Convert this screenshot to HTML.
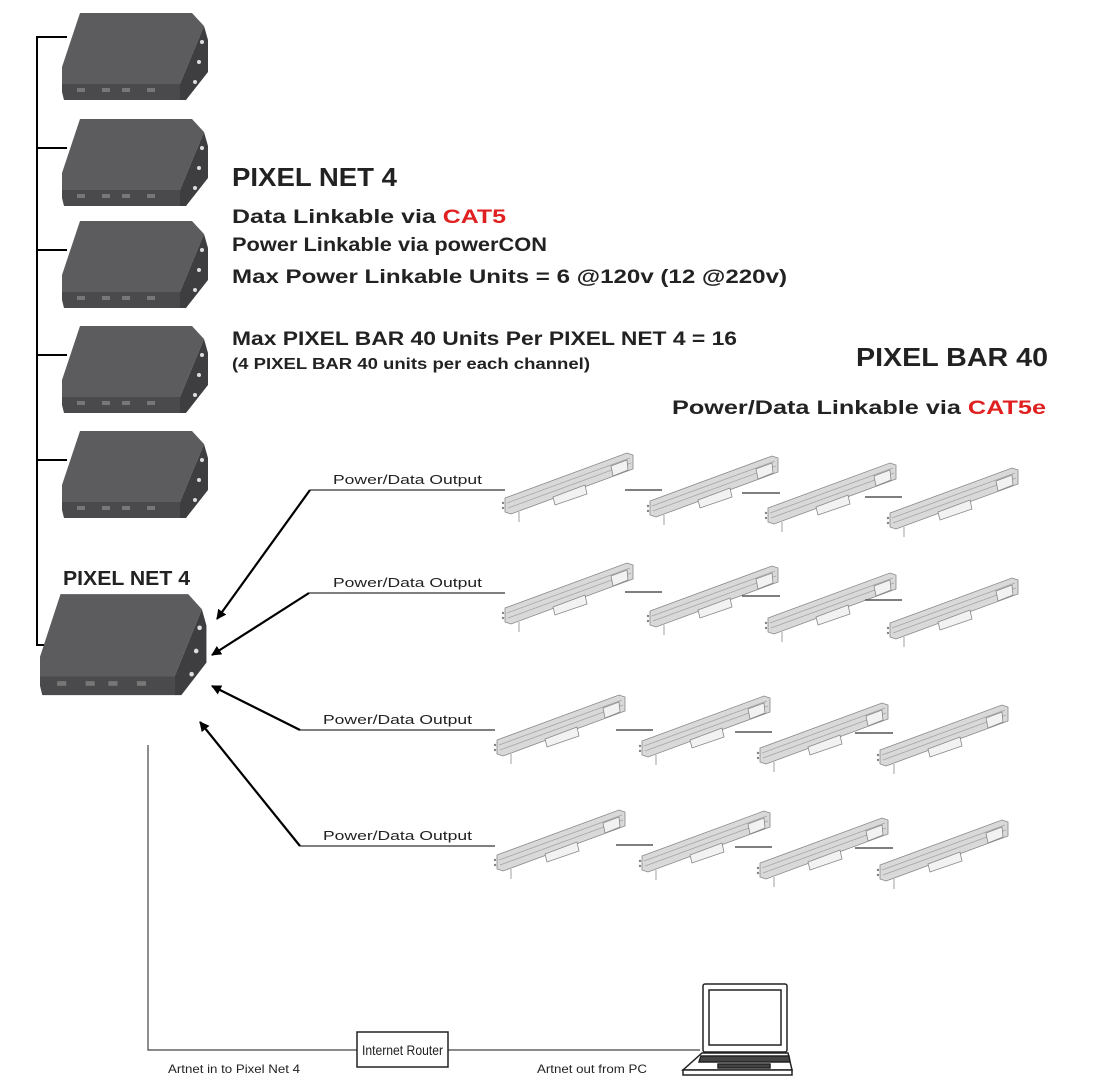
<!DOCTYPE html>
<html><head><meta charset="utf-8"><style>
html,body{margin:0;padding:0;background:#fff;}
svg{display:block;}
text{font-family:"Liberation Sans",sans-serif;}
</style></head><body>
<svg width="1093" height="1080" viewBox="0 0 1093 1080" xmlns="http://www.w3.org/2000/svg">
<defs>
<g id="box">
  <polygon points="18,1 130,1 142,14 118,72 0,72 0,55" fill="#5c5c5e"/>
  <polygon points="0,72 118,72 118,88 2,88 0,80" fill="#4a4a4c"/>
  <polygon points="118,72 142,14 146,28 146,60 124,88 118,88" fill="#3e3e40"/>
  <circle cx="140" cy="30" r="2" fill="#ddd"/><circle cx="137" cy="50" r="2" fill="#ddd"/><circle cx="133" cy="70" r="2" fill="#ddd"/>
  <g fill="#777"><rect x="15" y="76" width="8" height="4"/><rect x="40" y="76" width="8" height="4"/><rect x="60" y="76" width="8" height="4"/><rect x="85" y="76" width="8" height="4"/></g>
</g>
<g id="bar" stroke="#888" stroke-width="0.8">
  <polygon points="0,-2 122,-47 128,-45 128,-31 6,14 0,12" fill="#d9d9d9"/>
  <line x1="2" y1="3" x2="125" y2="-42" stroke="#a5a5a5"/>
  <line x1="3" y1="8" x2="126" y2="-37" stroke="#a5a5a5"/>
  <polygon points="48,-3 80,-15 82,-6 50,5" fill="#f2f2f2"/>
  <polygon points="106,-34 122,-40 123,-30 108,-24" fill="#f2f2f2"/>
  <line x1="14" y1="12" x2="14" y2="22"/>
  <circle cx="-2" cy="3" r="0.8" fill="#555"/><circle cx="-2" cy="8" r="0.8" fill="#555"/>
</g>
<marker id="ah" markerWidth="10" markerHeight="10" refX="9" refY="5" orient="auto" markerUnits="userSpaceOnUse" viewBox="0 0 10 10">
  <path d="M0,0 L10,5 L0,10 Z" fill="#000"/>
</marker>
</defs>

<g stroke="#000" stroke-width="2" fill="none">
  <polyline points="67,37 37,37 37,645 45,645"/>
  <line x1="37" y1="148" x2="67" y2="148"/>
  <line x1="37" y1="250" x2="67" y2="250"/>
  <line x1="37" y1="355" x2="67" y2="355"/>
  <line x1="37" y1="460" x2="67" y2="460"/>
</g>
<use href="#box" x="62" y="12"/>
<use href="#box" x="62" y="118"/>
<use href="#box" x="62" y="220"/>
<use href="#box" x="62" y="325"/>
<use href="#box" x="62" y="430"/>
<use href="#box" transform="translate(40,593) scale(1.14,1.16)"/>

<text x="63" y="585" font-size="20" font-weight="bold" fill="#222" textLength="127" lengthAdjust="spacingAndGlyphs">PIXEL NET 4</text>

<text x="232" y="186" font-size="26" font-weight="bold" fill="#222" textLength="165" lengthAdjust="spacingAndGlyphs">PIXEL NET 4</text>
<text x="232" y="223" font-size="19" font-weight="bold" fill="#222" textLength="274" lengthAdjust="spacingAndGlyphs">Data Linkable via <tspan fill="#e02020">CAT5</tspan></text>
<text x="232" y="251" font-size="19" font-weight="bold" fill="#222" textLength="315" lengthAdjust="spacingAndGlyphs">Power Linkable via powerCON</text>
<text x="232" y="283" font-size="19" font-weight="bold" fill="#222" textLength="555" lengthAdjust="spacingAndGlyphs">Max Power Linkable Units = 6 @120v (12 @220v)</text>
<text x="232" y="345" font-size="19" font-weight="bold" fill="#222" textLength="505" lengthAdjust="spacingAndGlyphs">Max PIXEL BAR 40 Units Per PIXEL NET 4 = 16</text>
<text x="232" y="369" font-size="16" font-weight="bold" fill="#222" textLength="358" lengthAdjust="spacingAndGlyphs">(4 PIXEL BAR 40 units per each channel)</text>

<text x="856" y="366" font-size="26" font-weight="bold" fill="#222" textLength="192" lengthAdjust="spacingAndGlyphs">PIXEL BAR 40</text>
<text x="672" y="414" font-size="19" font-weight="bold" fill="#222" textLength="374" lengthAdjust="spacingAndGlyphs">Power/Data Linkable via <tspan fill="#e02020">CAT5e</tspan></text>

<g stroke="#000" stroke-width="2.2" fill="none">
  <line x1="310" y1="490" x2="217" y2="619" marker-end="url(#ah)"/>
  <line x1="309" y1="593" x2="212" y2="655" marker-end="url(#ah)"/>
  <line x1="300" y1="730" x2="212" y2="686" marker-end="url(#ah)"/>
  <line x1="300" y1="846" x2="200" y2="722" marker-end="url(#ah)"/>
</g>
<g stroke="#333" stroke-width="1.2">
  <line x1="310" y1="490" x2="505" y2="490"/>
  <line x1="309" y1="593" x2="505" y2="593"/>
  <line x1="300" y1="730" x2="495" y2="730"/>
  <line x1="300" y1="846" x2="495" y2="846"/>
</g>
<g font-size="13" fill="#222">
  <text x="333" y="484" textLength="149" lengthAdjust="spacingAndGlyphs">Power/Data Output</text>
  <text x="333" y="587" textLength="149" lengthAdjust="spacingAndGlyphs">Power/Data Output</text>
  <text x="323" y="724" textLength="149" lengthAdjust="spacingAndGlyphs">Power/Data Output</text>
  <text x="323" y="840" textLength="149" lengthAdjust="spacingAndGlyphs">Power/Data Output</text>
</g>

<use href="#bar" x="505" y="500"/><use href="#bar" x="650" y="503"/><use href="#bar" x="768" y="510"/><use href="#bar" x="890" y="515"/>
<use href="#bar" x="505" y="610"/><use href="#bar" x="650" y="613"/><use href="#bar" x="768" y="620"/><use href="#bar" x="890" y="625"/>
<use href="#bar" x="497" y="742"/><use href="#bar" x="642" y="743"/><use href="#bar" x="760" y="750"/><use href="#bar" x="880" y="752"/>
<use href="#bar" x="497" y="857"/><use href="#bar" x="642" y="858"/><use href="#bar" x="760" y="865"/><use href="#bar" x="880" y="867"/>
<g stroke="#555" stroke-width="1.5">
  <line x1="625" y1="490" x2="662" y2="490"/><line x1="742" y1="493" x2="780" y2="493"/><line x1="865" y1="497" x2="902" y2="497"/>
  <line x1="625" y1="592" x2="662" y2="592"/><line x1="742" y1="596" x2="780" y2="596"/><line x1="865" y1="600" x2="902" y2="600"/>
  <line x1="616" y1="730" x2="653" y2="730"/><line x1="735" y1="732" x2="772" y2="732"/><line x1="855" y1="733" x2="893" y2="733"/>
  <line x1="616" y1="845" x2="653" y2="845"/><line x1="735" y1="847" x2="772" y2="847"/><line x1="855" y1="848" x2="893" y2="848"/>
</g>

<g stroke="#444" stroke-width="1.2" fill="none">
  <polyline points="148,745 148,1050 357,1050"/>
  <line x1="448" y1="1050" x2="700" y2="1050"/>
</g>
<rect x="357" y="1032" width="91" height="35" fill="#fff" stroke="#222" stroke-width="1.5"/>
<text x="362" y="1055" font-size="14" fill="#222" textLength="81" lengthAdjust="spacingAndGlyphs">Internet Router</text>
<text x="168" y="1073" font-size="12" fill="#222" textLength="132" lengthAdjust="spacingAndGlyphs">Artnet in to Pixel Net 4</text>
<text x="537" y="1073" font-size="12" fill="#222" textLength="110" lengthAdjust="spacingAndGlyphs">Artnet out from PC</text>

<g stroke="#222" stroke-width="1.5" fill="#fff">
  <rect x="703" y="984" width="84" height="68" rx="2"/>
  <rect x="709" y="990" width="72" height="55"/>
  <polygon points="702,1053 788,1053 792,1070 683,1070" fill="#fff"/>
  <polygon points="701,1056 789,1056 790,1062 699,1062" fill="#444"/>
  <rect x="718" y="1064" width="52" height="4" fill="#444"/>
  <rect x="683" y="1070" width="109" height="5"/>
</g>
</svg>
</body></html>
